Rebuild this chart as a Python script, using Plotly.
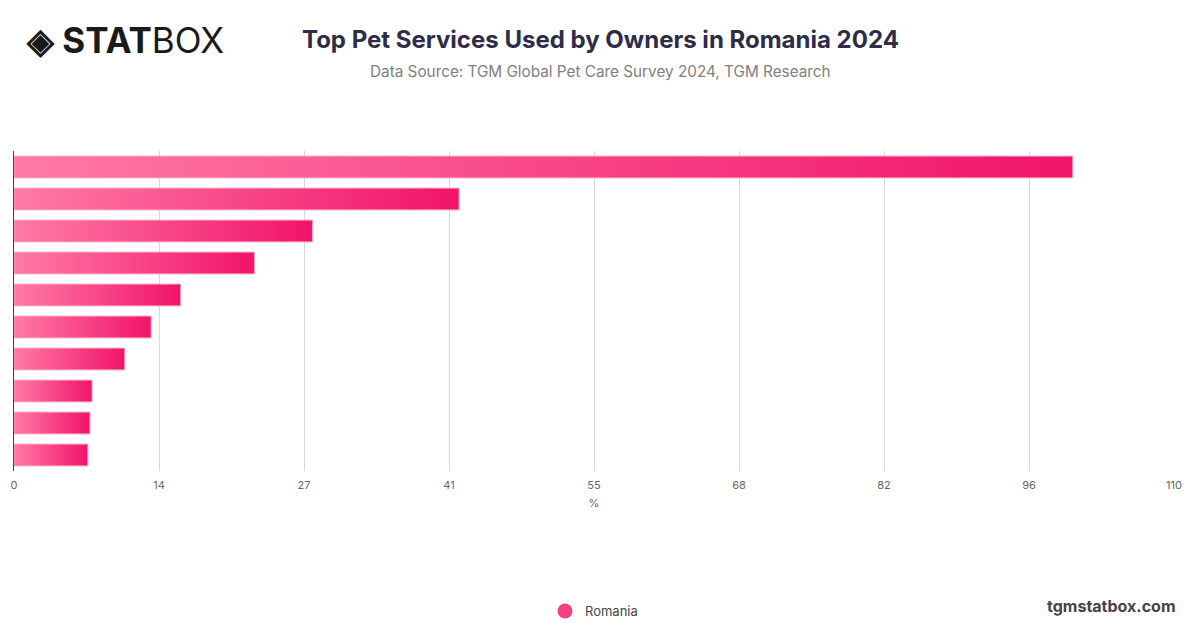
import plotly.graph_objects as go

# Data (values in %, top to bottom)
services = [
    'Veterinary care', 'Pet food delivery', 'Grooming', 'Pet insurance',
    'Pet training', 'Pet sitting', 'Dog walking', 'Pet boarding',
    'Pet daycare', 'Pet taxi',
]
values = [100.4, 42.2, 28.3, 22.8, 15.8, 13.0, 10.5, 7.4, 7.2, 7.0]
series_name = 'Romania'
tick_vals = [0, 13.75, 27.5, 41.25, 55, 68.75, 82.5, 96.25, 110]
tick_text = ['0', '14', '27', '41', '55', '68', '82', '96', '110']

W, H = 1200, 628
OFF = 8  # page body margin shifts the drawing by this much

# plot area in screen pixels (from the reference)
L, R, T, B = 14, 1174, 151, 471
ml, mt = L - OFF, T - OFF
mr, mb = W - (R - OFF), H - (B - OFF)
plot_w, plot_h = R - L, B - T


def px_x(x):
    return (x - OFF - ml) / plot_w


def px_y(y):
    return (H - mb - (y - OFF)) / plot_h


grad = [[0, '#ff7aa6'], [1, '#f1146a']]
half = 0.34

fig = go.Figure()

# each bar as a filled shape so it can carry a horizontal gradient
for i, (name, v) in enumerate(zip(services, values)):
    fig.add_trace(go.Scatter(
        x=[0, v, v, 0, 0],
        y=[i - half, i - half, i + half, i + half, i - half],
        mode='lines',
        fill='toself',
        fillgradient=dict(type='horizontal', colorscale=grad),
        line=dict(color='#ffa3c4', width=1),
        name=name,
        showlegend=False,
        hovertemplate=f'{name}: {v}%<extra></extra>',
    ))

# legend entry
fig.add_trace(go.Scatter(
    x=[None], y=[None], mode='markers', name=series_name,
    marker=dict(size=15, color='#f5407f', symbol='circle'),
))

fig.update_layout(
    width=W, height=H,
    margin=dict(l=ml, r=mr, t=mt, b=mb, autoexpand=False),
    paper_bgcolor='white', plot_bgcolor='white',
    font=dict(family='Inter, Roboto, sans-serif', color='#555'),
    showlegend=True,
    legend=dict(
        orientation='h', x=0.5, xanchor='center',
        y=px_y(611), yanchor='middle',
        font=dict(size=13, color='#444'),
    ),
    xaxis=dict(
        range=[0, 110], tickvals=tick_vals, ticktext=tick_text,
        showgrid=True, gridcolor='#d9d9d9', gridwidth=1,
        zeroline=False, showline=False, ticks='', ticklabelstandoff=6,
        tickfont=dict(size=11, color='#666'),
        title=dict(text='%', font=dict(size=11, color='#666'), standoff=8),
    ),
    yaxis=dict(
        range=[9.5, -0.5], showticklabels=False, showgrid=False,
        zeroline=False, showline=True, linecolor='#444', linewidth=1.2,
    ),
    annotations=[
        dict(text='<b>Top Pet Services Used by Owners in Romania 2024</b>',
             xref='paper', yref='paper', x=px_x(600), y=px_y(40),
             xanchor='center', yanchor='middle', showarrow=False,
             font=dict(size=24, color='#2e2c48')),
        dict(text='Data Source: TGM Global Pet Care Survey 2024, TGM Research',
             xref='paper', yref='paper', x=px_x(600), y=px_y(71),
             xanchor='center', yanchor='middle', showarrow=False,
             font=dict(size=15.3, color='#808080')),
        dict(text='<b>◈ STAT</b>BOX',
             xref='paper', yref='paper', x=px_x(24), y=px_y(40),
             xanchor='left', yanchor='middle', showarrow=False,
             font=dict(size=35, color='#1a1a1a')),
        dict(text='<b>tgmstatbox.com</b>',
             xref='paper', yref='paper', x=px_x(1178), y=px_y(606),
             xanchor='right', yanchor='middle', showarrow=False,
             font=dict(size=16, color='#444')),
    ],
)

fig.write_html('out.html')
